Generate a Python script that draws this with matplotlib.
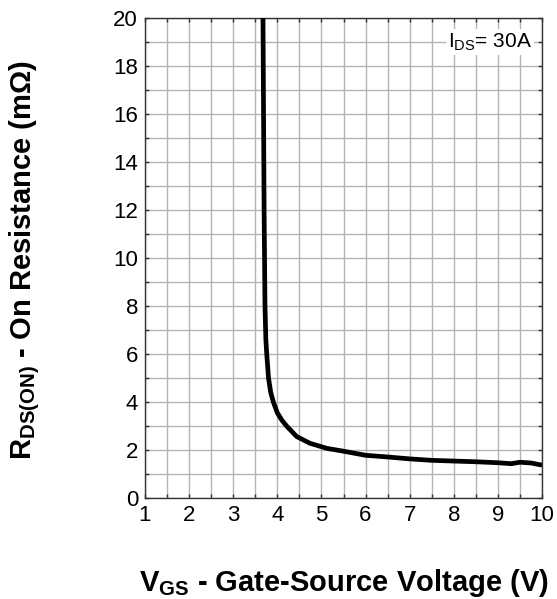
import matplotlib
matplotlib.use("Agg")
import matplotlib.pyplot as plt
from matplotlib.ticker import MultipleLocator

plt.rcParams['font.family'] = ['Liberation Sans', 'DejaVu Sans']
plt.rcParams['mathtext.fontset'] = 'custom'
plt.rcParams['mathtext.rm'] = 'Liberation Sans'
plt.rcParams['mathtext.it'] = 'Liberation Sans:italic'
plt.rcParams['mathtext.bf'] = 'Liberation Sans:bold'

# Data
vgs = [3.675, 3.70, 3.72, 3.74, 3.76, 3.80, 3.85, 3.91, 4.00, 4.10, 4.21, 4.44,
       4.74, 5.12, 5.50, 6.0, 6.5, 7.0, 7.5, 8.0, 8.5, 9.0, 9.3, 9.5, 9.75, 10.0]
rds = [20.0, 12.0, 8.0, 6.6, 6.0, 5.0, 4.4, 4.0, 3.55, 3.25, 3.0, 2.56,
       2.28, 2.07, 1.95, 1.78, 1.71, 1.63, 1.57, 1.54, 1.51, 1.47, 1.43, 1.49, 1.46, 1.37]

x_ticks = [1, 2, 3, 4, 5, 6, 7, 8, 9, 10]
y_ticks = [0, 2, 4, 6, 8, 10, 12, 14, 16, 18, 20]

fig = plt.figure(figsize=(5.57, 5.99), dpi=100)
ax = fig.add_axes([0.2603, 0.1686, 0.7128, 0.8013])

ax.plot(vgs, rds, color='black', lw=3.4, solid_capstyle='butt', zorder=3)

ax.set_xlim(1, 10)
ax.set_ylim(0, 20)
ax.set_xticks(x_ticks)
ax.set_yticks(y_ticks)
ax.xaxis.set_minor_locator(MultipleLocator(0.5))
ax.yaxis.set_minor_locator(MultipleLocator(1))
ax.grid(True, which='both', color='#b4b4b4', lw=1.0, zorder=0)
ax.set_axisbelow(True)
ax.tick_params(which='both', direction='in', top=True, right=True,
               length=3, width=1, color='#333333', labelsize=16, pad=5)
for s in ax.spines.values():
    s.set_color('#333333')
    s.set_linewidth(1.0)

ax.text(9.78, 19.0, r'I$_{\mathregular{DS}}$= 30A', ha='right', va='center', fontsize=15,
        bbox=dict(facecolor='white', edgecolor='none', pad=1.5), zorder=4)

fig.text(0.618, 0.027, r'$\mathbf{V_{GS}}$ - Gate-Source Voltage (V)', ha='center', va='center',
         fontsize=21, fontweight='bold')
fig.text(0.045, 0.566, r'$\mathbf{R_{DS(ON)}}$ - On Resistance (m$\mathbf{\Omega}$)', ha='center', va='center',
         rotation=90, fontsize=21, fontweight='bold')

fig.savefig('out.png', dpi=100)
